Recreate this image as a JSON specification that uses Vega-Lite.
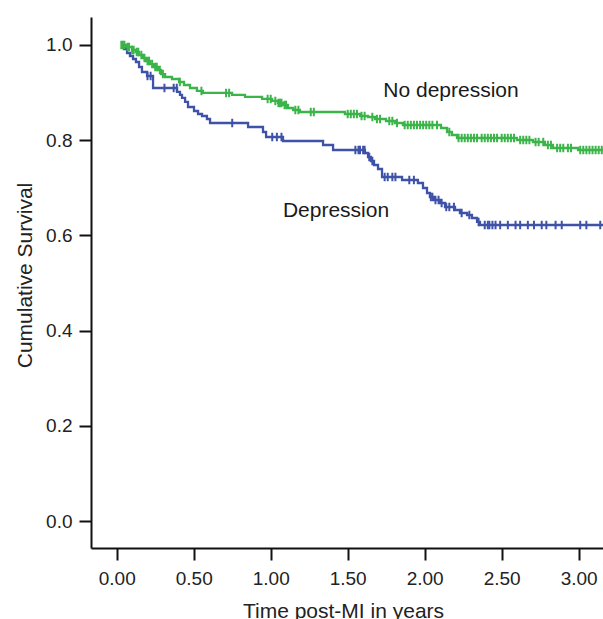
{
  "$schema": "https://vega.github.io/schema/vega-lite/v6.json",
  "width": 512,
  "height": 531,
  "autosize": {"type": "none"},
  "padding": {"left": 91, "top": 17, "right": 0, "bottom": 71},
  "background": "white",
  "config": {
    "view": {"stroke": null},
    "font": "Liberation Sans",
    "axis": {
      "grid": false,
      "domainColor": "#111",
      "domainWidth": 2,
      "tickColor": "#111",
      "tickWidth": 2,
      "tickSize": 12,
      "labelFont": "Liberation Sans",
      "labelFontSize": 19,
      "labelColor": "#222",
      "titleFont": "Liberation Sans",
      "titleFontSize": 21,
      "titleFontWeight": "normal",
      "titleColor": "#222"
    }
  },
  "datasets": {
    "curves": [
      {"group":"No depression","time":0.028,"surv":1.0},{"group":"No depression","time":0.060,"surv":0.9958},{"group":"No depression","time":0.099,"surv":0.9895},{"group":"No depression","time":0.125,"surv":0.9853},{"group":"No depression","time":0.145,"surv":0.979},{"group":"No depression","time":0.171,"surv":0.9727},{"group":"No depression","time":0.190,"surv":0.9664},{"group":"No depression","time":0.216,"surv":0.960},{"group":"No depression","time":0.242,"surv":0.9538},{"group":"No depression","time":0.268,"surv":0.9475},{"group":"No depression","time":0.288,"surv":0.939},{"group":"No depression","time":0.314,"surv":0.9328},{"group":"No depression","time":0.359,"surv":0.9286},{"group":"No depression","time":0.405,"surv":0.9223},{"group":"No depression","time":0.437,"surv":0.916},{"group":"No depression","time":0.476,"surv":0.9097},{"group":"No depression","time":0.521,"surv":0.9034},{"group":"No depression","time":0.560,"surv":0.8992},{"group":"No depression","time":0.749,"surv":0.895},{"group":"No depression","time":0.833,"surv":0.8908},{"group":"No depression","time":0.944,"surv":0.8866},{"group":"No depression","time":1.009,"surv":0.8824},{"group":"No depression","time":1.047,"surv":0.8782},{"group":"No depression","time":1.080,"surv":0.874},{"group":"No depression","time":1.112,"surv":0.8676},{"group":"No depression","time":1.145,"surv":0.8634},{"group":"No depression","time":1.190,"surv":0.8592},{"group":"No depression","time":1.482,"surv":0.855},{"group":"No depression","time":1.580,"surv":0.8508},{"group":"No depression","time":1.632,"surv":0.8487},{"group":"No depression","time":1.677,"surv":0.8445},{"group":"No depression","time":1.749,"surv":0.8403},{"group":"No depression","time":1.807,"surv":0.8361},{"group":"No depression","time":1.859,"surv":0.8319},{"group":"No depression","time":2.106,"surv":0.8256},{"group":"No depression","time":2.145,"surv":0.8172},{"group":"No depression","time":2.177,"surv":0.8109},{"group":"No depression","time":2.210,"surv":0.8046},{"group":"No depression","time":2.599,"surv":0.8004},{"group":"No depression","time":2.703,"surv":0.7962},{"group":"No depression","time":2.781,"surv":0.7899},{"group":"No depression","time":2.833,"surv":0.7836},{"group":"No depression","time":2.996,"surv":0.7794},{"group":"No depression","time":3.158,"surv":0.7794},
      {"group":"Depression","time":0.035,"surv":1.0},{"group":"Depression","time":0.047,"surv":0.9916},{"group":"Depression","time":0.067,"surv":0.9832},{"group":"Depression","time":0.086,"surv":0.9769},{"group":"Depression","time":0.106,"surv":0.9706},{"group":"Depression","time":0.125,"surv":0.9643},{"group":"Depression","time":0.145,"surv":0.9538},{"group":"Depression","time":0.164,"surv":0.9433},{"group":"Depression","time":0.197,"surv":0.9349},{"group":"Depression","time":0.236,"surv":0.9097},{"group":"Depression","time":0.392,"surv":0.9013},{"group":"Depression","time":0.411,"surv":0.895},{"group":"Depression","time":0.424,"surv":0.8887},{"group":"Depression","time":0.444,"surv":0.8803},{"group":"Depression","time":0.463,"surv":0.8697},{"group":"Depression","time":0.502,"surv":0.8613},{"group":"Depression","time":0.528,"surv":0.855},{"group":"Depression","time":0.554,"surv":0.8508},{"group":"Depression","time":0.586,"surv":0.8445},{"group":"Depression","time":0.606,"surv":0.8361},{"group":"Depression","time":0.853,"surv":0.8277},{"group":"Depression","time":0.950,"surv":0.8172},{"group":"Depression","time":0.970,"surv":0.8067},{"group":"Depression","time":1.080,"surv":0.7983},{"group":"Depression","time":1.340,"surv":0.7899},{"group":"Depression","time":1.405,"surv":0.7794},{"group":"Depression","time":1.612,"surv":0.7731},{"group":"Depression","time":1.632,"surv":0.7647},{"group":"Depression","time":1.651,"surv":0.7563},{"group":"Depression","time":1.671,"surv":0.7479},{"group":"Depression","time":1.697,"surv":0.7395},{"group":"Depression","time":1.723,"surv":0.7227},{"group":"Depression","time":1.853,"surv":0.7164},{"group":"Depression","time":1.956,"surv":0.7101},{"group":"Depression","time":1.989,"surv":0.6996},{"group":"Depression","time":2.015,"surv":0.6891},{"group":"Depression","time":2.034,"surv":0.6807},{"group":"Depression","time":2.060,"surv":0.6744},{"group":"Depression","time":2.099,"surv":0.6681},{"group":"Depression","time":2.132,"surv":0.6597},{"group":"Depression","time":2.197,"surv":0.6534},{"group":"Depression","time":2.229,"surv":0.6471},{"group":"Depression","time":2.275,"surv":0.6429},{"group":"Depression","time":2.307,"surv":0.6366},{"group":"Depression","time":2.340,"surv":0.6282},{"group":"Depression","time":2.359,"surv":0.6218},{"group":"Depression","time":3.158,"surv":0.6218}
    ],
    "censored": [
      {"group":"No depression","time":0.03,"surv":1.0},{"group":"No depression","time":0.04,"surv":1.0},{"group":"No depression","time":0.05,"surv":1.0},{"group":"No depression","time":0.07,"surv":0.9958},{"group":"No depression","time":0.08,"surv":0.9958},{"group":"No depression","time":0.10,"surv":0.9895},{"group":"No depression","time":0.11,"surv":0.9895},{"group":"No depression","time":0.13,"surv":0.9853},{"group":"No depression","time":0.14,"surv":0.9853},{"group":"No depression","time":0.16,"surv":0.979},{"group":"No depression","time":0.18,"surv":0.9727},{"group":"No depression","time":0.20,"surv":0.9664},{"group":"No depression","time":0.21,"surv":0.9664},{"group":"No depression","time":0.23,"surv":0.960},{"group":"No depression","time":0.25,"surv":0.9538},{"group":"No depression","time":0.26,"surv":0.9538},{"group":"No depression","time":0.28,"surv":0.9475},{"group":"No depression","time":0.30,"surv":0.939},{"group":"No depression","time":0.41,"surv":0.9223},{"group":"No depression","time":0.55,"surv":0.9034},{"group":"No depression","time":0.71,"surv":0.8992},{"group":"No depression","time":0.73,"surv":0.8992},{"group":"No depression","time":0.98,"surv":0.8866},{"group":"No depression","time":1.00,"surv":0.8866},{"group":"No depression","time":1.03,"surv":0.8824},{"group":"No depression","time":1.05,"surv":0.8782},{"group":"No depression","time":1.06,"surv":0.8782},{"group":"No depression","time":1.07,"surv":0.8782},{"group":"No depression","time":1.09,"surv":0.874},{"group":"No depression","time":1.10,"surv":0.874},{"group":"No depression","time":1.16,"surv":0.8634},{"group":"No depression","time":1.18,"surv":0.8634},{"group":"No depression","time":1.26,"surv":0.8592},{"group":"No depression","time":1.28,"surv":0.8592},{"group":"No depression","time":1.50,"surv":0.855},{"group":"No depression","time":1.52,"surv":0.855},{"group":"No depression","time":1.54,"surv":0.855},{"group":"No depression","time":1.56,"surv":0.855},{"group":"No depression","time":1.59,"surv":0.8508},{"group":"No depression","time":1.61,"surv":0.8508},{"group":"No depression","time":1.66,"surv":0.8487},{"group":"No depression","time":1.69,"surv":0.8445},{"group":"No depression","time":1.71,"surv":0.8445},{"group":"No depression","time":1.77,"surv":0.8403},{"group":"No depression","time":1.79,"surv":0.8403},{"group":"No depression","time":1.82,"surv":0.8361},{"group":"No depression","time":1.87,"surv":0.8319},{"group":"No depression","time":1.89,"surv":0.8319},{"group":"No depression","time":1.91,"surv":0.8319},{"group":"No depression","time":1.93,"surv":0.8319},{"group":"No depression","time":1.95,"surv":0.8319},{"group":"No depression","time":1.97,"surv":0.8319},{"group":"No depression","time":1.99,"surv":0.8319},{"group":"No depression","time":2.01,"surv":0.8319},{"group":"No depression","time":2.03,"surv":0.8319},{"group":"No depression","time":2.05,"surv":0.8319},{"group":"No depression","time":2.08,"surv":0.8319},{"group":"No depression","time":2.16,"surv":0.8172},{"group":"No depression","time":2.22,"surv":0.8046},{"group":"No depression","time":2.24,"surv":0.8046},{"group":"No depression","time":2.26,"surv":0.8046},{"group":"No depression","time":2.28,"surv":0.8046},{"group":"No depression","time":2.30,"surv":0.8046},{"group":"No depression","time":2.32,"surv":0.8046},{"group":"No depression","time":2.34,"surv":0.8046},{"group":"No depression","time":2.37,"surv":0.8046},{"group":"No depression","time":2.39,"surv":0.8046},{"group":"No depression","time":2.41,"surv":0.8046},{"group":"No depression","time":2.43,"surv":0.8046},{"group":"No depression","time":2.45,"surv":0.8046},{"group":"No depression","time":2.47,"surv":0.8046},{"group":"No depression","time":2.50,"surv":0.8046},{"group":"No depression","time":2.52,"surv":0.8046},{"group":"No depression","time":2.54,"surv":0.8046},{"group":"No depression","time":2.56,"surv":0.8046},{"group":"No depression","time":2.58,"surv":0.8046},{"group":"No depression","time":2.62,"surv":0.8004},{"group":"No depression","time":2.64,"surv":0.8004},{"group":"No depression","time":2.66,"surv":0.8004},{"group":"No depression","time":2.68,"surv":0.8004},{"group":"No depression","time":2.72,"surv":0.7962},{"group":"No depression","time":2.74,"surv":0.7962},{"group":"No depression","time":2.77,"surv":0.7962},{"group":"No depression","time":2.80,"surv":0.7899},{"group":"No depression","time":2.82,"surv":0.7899},{"group":"No depression","time":2.86,"surv":0.7836},{"group":"No depression","time":2.88,"surv":0.7836},{"group":"No depression","time":2.90,"surv":0.7836},{"group":"No depression","time":2.93,"surv":0.7836},{"group":"No depression","time":2.95,"surv":0.7836},{"group":"No depression","time":3.01,"surv":0.7794},{"group":"No depression","time":3.03,"surv":0.7794},{"group":"No depression","time":3.05,"surv":0.7794},{"group":"No depression","time":3.07,"surv":0.7794},{"group":"No depression","time":3.09,"surv":0.7794},{"group":"No depression","time":3.11,"surv":0.7794},{"group":"No depression","time":3.13,"surv":0.7794},{"group":"No depression","time":3.15,"surv":0.7794},
      {"group":"Depression","time":0.20,"surv":0.9349},{"group":"Depression","time":0.22,"surv":0.9349},{"group":"Depression","time":0.31,"surv":0.9097},{"group":"Depression","time":0.37,"surv":0.9097},{"group":"Depression","time":0.39,"surv":0.9097},{"group":"Depression","time":0.75,"surv":0.8361},{"group":"Depression","time":1.01,"surv":0.8067},{"group":"Depression","time":1.04,"surv":0.8067},{"group":"Depression","time":1.07,"surv":0.8067},{"group":"Depression","time":1.55,"surv":0.7794},{"group":"Depression","time":1.57,"surv":0.7794},{"group":"Depression","time":1.58,"surv":0.7794},{"group":"Depression","time":1.60,"surv":0.7794},{"group":"Depression","time":1.61,"surv":0.7794},{"group":"Depression","time":1.64,"surv":0.7647},{"group":"Depression","time":1.66,"surv":0.7563},{"group":"Depression","time":1.74,"surv":0.7227},{"group":"Depression","time":1.76,"surv":0.7227},{"group":"Depression","time":1.79,"surv":0.7227},{"group":"Depression","time":1.81,"surv":0.7227},{"group":"Depression","time":1.90,"surv":0.7164},{"group":"Depression","time":1.93,"surv":0.7164},{"group":"Depression","time":2.04,"surv":0.6807},{"group":"Depression","time":2.05,"surv":0.6807},{"group":"Depression","time":2.07,"surv":0.6744},{"group":"Depression","time":2.09,"surv":0.6744},{"group":"Depression","time":2.11,"surv":0.6681},{"group":"Depression","time":2.14,"surv":0.6597},{"group":"Depression","time":2.16,"surv":0.6597},{"group":"Depression","time":2.19,"surv":0.6597},{"group":"Depression","time":2.24,"surv":0.6471},{"group":"Depression","time":2.29,"surv":0.6429},{"group":"Depression","time":2.35,"surv":0.6282},{"group":"Depression","time":2.39,"surv":0.6218},{"group":"Depression","time":2.41,"surv":0.6218},{"group":"Depression","time":2.42,"surv":0.6218},{"group":"Depression","time":2.44,"surv":0.6218},{"group":"Depression","time":2.46,"surv":0.6218},{"group":"Depression","time":2.49,"surv":0.6218},{"group":"Depression","time":2.54,"surv":0.6218},{"group":"Depression","time":2.59,"surv":0.6218},{"group":"Depression","time":2.62,"surv":0.6218},{"group":"Depression","time":2.67,"surv":0.6218},{"group":"Depression","time":2.71,"surv":0.6218},{"group":"Depression","time":2.76,"surv":0.6218},{"group":"Depression","time":2.79,"surv":0.6218},{"group":"Depression","time":2.85,"surv":0.6218},{"group":"Depression","time":2.89,"surv":0.6218},{"group":"Depression","time":3.01,"surv":0.6218},{"group":"Depression","time":3.05,"surv":0.6218},{"group":"Depression","time":3.14,"surv":0.6218}
    ],
    "labels": [
      {"label":"No depression","time":2.171,"surv":0.903},
      {"label":"Depression","time":1.424,"surv":0.651}
    ]
  },
  "layer": [
    {
      "data": {"name": "curves"},
      "mark": {"type": "line", "interpolate": "step-after", "strokeWidth": 2.3},
      "encoding": {
        "x": {"field": "time", "type": "quantitative",
              "scale": {"domain": [-0.167, 3.158], "nice": false, "zero": false},
              "axis": {"values": [0, 0.5, 1, 1.5, 2, 2.5, 3], "format": ".2f", "title": "Time post-MI in years",
                       "labelPadding": 24, "labelBaseline": "alphabetic", "titleX": 252, "titleY": 69, "titleBaseline": "alphabetic"}},
        "y": {"field": "surv", "type": "quantitative",
              "scale": {"domain": [-0.0567, 1.0588], "nice": false, "zero": false},
              "axis": {"values": [0, 0.2, 0.4, 0.6, 0.8, 1.0], "format": ".1f", "title": "Cumulative Survival",
                       "labelPadding": 7, "titleX": -60, "titleY": 258, "titleBaseline": "alphabetic"}},
        "color": {"field": "group", "type": "nominal",
                  "scale": {"domain": ["No depression", "Depression"], "range": ["#3bb449", "#3e52a8"]},
                  "legend": null},
        "detail": {"field": "group"}
      }
    },
    {
      "data": {"name": "censored"},
      "mark": {"type": "point", "shape": "M0,-1L0,1", "size": 72, "filled": false, "strokeWidth": 2, "opacity": 1},
      "encoding": {
        "x": {"field": "time", "type": "quantitative"},
        "y": {"field": "surv", "type": "quantitative"},
        "color": {"field": "group", "type": "nominal"}
      }
    },
    {
      "data": {"name": "labels"},
      "mark": {"type": "text", "fontSize": 21, "font": "Liberation Sans", "color": "#1a1a1a", "align": "center", "baseline": "middle"},
      "encoding": {
        "x": {"field": "time", "type": "quantitative"},
        "y": {"field": "surv", "type": "quantitative"},
        "text": {"field": "label"}
      }
    },
    {
      "mark": {"type": "rule", "color": "#111", "strokeWidth": 2},
      "encoding": {"y": {"datum": 1.0588}}
    }
  ]
}
